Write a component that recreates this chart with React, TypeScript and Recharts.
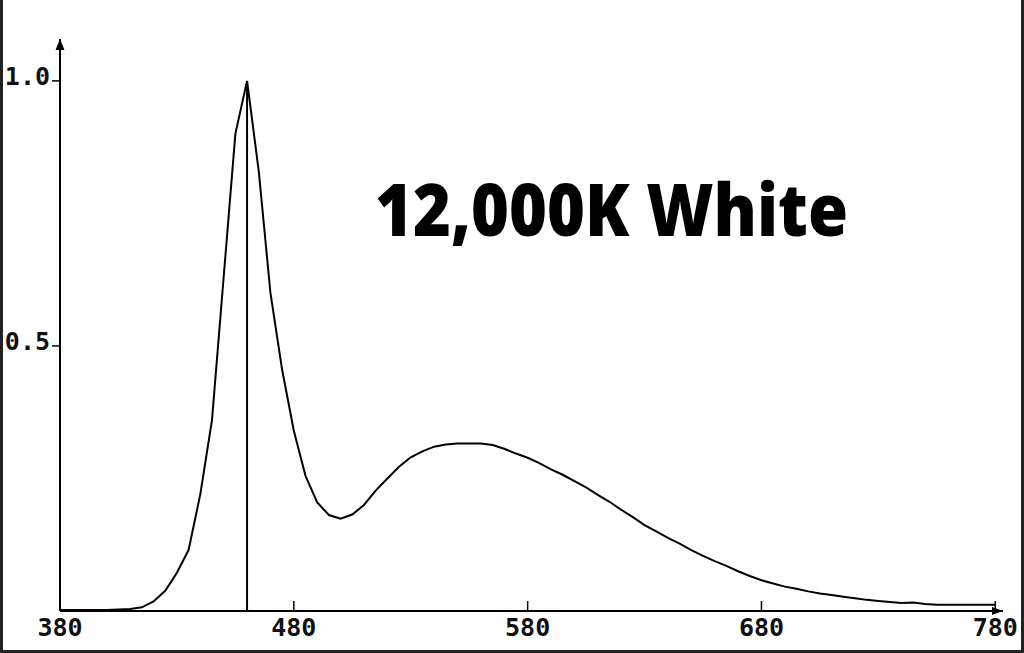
import { LineChart, Line, XAxis, YAxis, ReferenceLine } from "recharts";

const wavelengths = [
  380, 385, 390, 395, 400, 405, 410, 415, 420, 425, 430, 435, 440, 445, 450, 455,
  460, 465, 470, 475, 480, 485, 490, 495, 500, 505, 510, 515, 520, 525, 530, 535,
  540, 545, 550, 555, 560, 565, 570, 575, 580, 585, 590, 595, 600, 605, 610, 615,
  620, 625, 630, 635, 640, 645, 650, 655, 660, 665, 670, 675, 680, 685, 690, 695,
  700, 705, 710, 715, 720, 725, 730, 735, 740, 745, 750, 755, 760, 765, 770, 775,
  780,
];

const intensity = [
  0.002, 0.002, 0.002, 0.002, 0.002, 0.003, 0.004, 0.007, 0.018, 0.038, 0.072, 0.115,
  0.22, 0.36, 0.63, 0.9, 1.0, 0.83, 0.6, 0.455, 0.34, 0.255, 0.205, 0.181, 0.174,
  0.182, 0.2, 0.227, 0.25, 0.272, 0.29, 0.301, 0.31, 0.314, 0.316, 0.316, 0.316,
  0.313, 0.306, 0.297, 0.289, 0.279, 0.267, 0.257, 0.245, 0.233, 0.219, 0.206, 0.191,
  0.177, 0.162, 0.15, 0.138, 0.127, 0.115, 0.104, 0.094, 0.085, 0.075, 0.066, 0.058,
  0.052, 0.046, 0.042, 0.037, 0.033, 0.03, 0.027, 0.024, 0.021, 0.019, 0.017, 0.015,
  0.016, 0.013, 0.012, 0.012, 0.012, 0.012, 0.012, 0.012,
];

const xTicks = [380, 480, 580, 680, 780];
const yTicks = [0.5, 1.0];
const peakWavelength = 460;
const title = "12,000K White";

const data = wavelengths.map((w, i) => ({ w, v: intensity[i] }));

const mono = "'DejaVu Sans Mono', monospace";

function XTick({ x, y, payload }: any) {
  return (
    <g>
      <line x1={x} y1={y} x2={x} y2={y - 10} stroke="#000" strokeWidth={1.5} />
      <text
        x={x}
        y={y + 25}
        textAnchor="middle"
        fontFamily={mono}
        fontWeight={700}
        fontSize={25}
        fill="#111"
      >
        {payload.value}
      </text>
    </g>
  );
}

function YTick({ x, y, payload }: any) {
  return (
    <text
      x={x}
      y={y + 4}
      textAnchor="end"
      fontFamily={mono}
      fontWeight={700}
      fontSize={25}
      fill="#111"
    >
      {Number(payload.value).toFixed(1)}
    </text>
  );
}

function YArrow({ viewBox }: any) {
  const tx = viewBox.x + viewBox.width;
  const ty = viewBox.y;
  return <path d={`M${tx},${ty} L${tx - 4.5},${ty + 11} L${tx + 4.5},${ty + 11} Z`} fill="#000" />;
}

function XArrow({ viewBox }: any) {
  const tx = viewBox.x + viewBox.width;
  const ty = viewBox.y;
  return <path d={`M${tx},${ty} L${tx - 11},${ty - 4} L${tx - 11},${ty + 4} Z`} fill="#000" />;
}

export default function App() {
  return (
    <div
      style={{
        position: "absolute",
        left: 0,
        top: 0,
        width: 1024,
        height: 653,
        background: "#fff",
      }}
    >
      <LineChart
        width={1024}
        height={653}
        data={data}
        margin={{ top: 39, right: 21, bottom: 0, left: 0 }}
      >
        <XAxis
          dataKey="w"
          type="number"
          domain={[380, 783.3]}
          ticks={xTicks}
          tickLine={false}
          tickSize={0}
          tickMargin={0}
          tick={<XTick />}
          height={42}
          axisLine={{ stroke: "#000", strokeWidth: 2 }}
          label={{ content: <XArrow /> }}
        />
        <YAxis
          type="number"
          domain={[0, 1.079]}
          ticks={yTicks}
          width={60}
          tickSize={8}
          tickMargin={2}
          tickLine={{ stroke: "#000", strokeWidth: 1.5 }}
          tick={<YTick />}
          axisLine={{ stroke: "#000", strokeWidth: 2 }}
          label={{ content: <YArrow /> }}
        />
        <ReferenceLine
          segment={[
            { x: peakWavelength, y: 0 },
            { x: peakWavelength, y: 1 },
          ]}
          stroke="#000"
          strokeWidth={2}
        />
        <Line
          type="linear"
          dataKey="v"
          stroke="#000"
          strokeWidth={2}
          dot={false}
          isAnimationActive={false}
        />
        <text
          x={375}
          y={236}
          fontFamily="'Open Sans', sans-serif"
          fontWeight={800}
          fontSize={73}
          textLength={473}
          lengthAdjust="spacingAndGlyphs"
          fill="#000"
        >
          {title}
        </text>
      </LineChart>
      <div
        style={{
          position: "absolute",
          left: 0,
          top: 0,
          width: 1024,
          height: 653,
          boxSizing: "border-box",
          borderLeft: "3px solid #222",
          borderRight: "3px solid #222",
          borderBottom: "3px solid #222",
          pointerEvents: "none",
        }}
      />
    </div>
  );
}
